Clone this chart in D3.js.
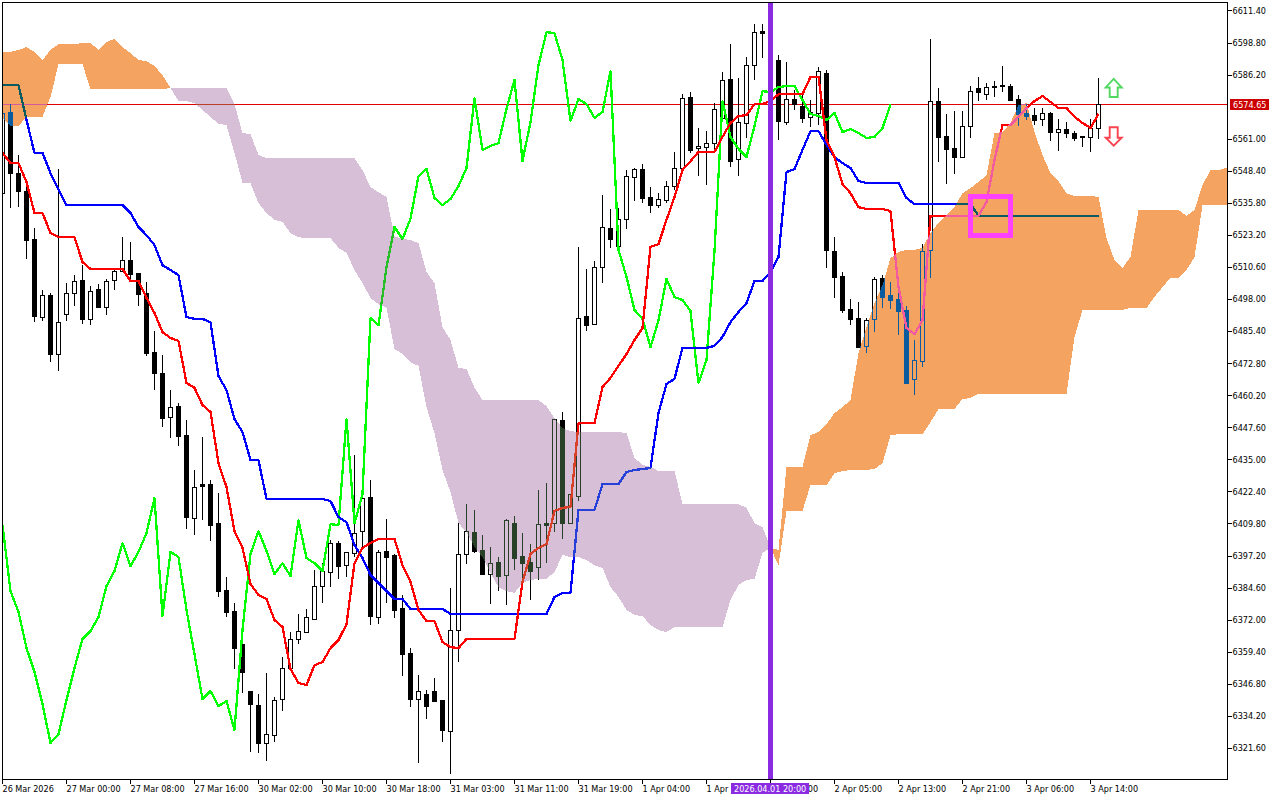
<!DOCTYPE html>
<html><head><meta charset="utf-8">
<script src="https://cdn.jsdelivr.net/npm/d3@7/dist/d3.min.js"></script>
<style>
html,body{margin:0;padding:0;background:#fff;overflow:hidden}
svg{display:block;isolation:isolate}
text{font-family:"DejaVu Sans",sans-serif;font-size:9px;font-stretch:condensed;fill:#000}
.crisp{shape-rendering:crispEdges}
</style></head><body>
<svg id="c" width="1280" height="800"></svg>
<script>
const opens=[6539.8,6571.7,6547.7,6540.6,6521.8,6491.1,6499.7,6476.6,6492.3,6500.5,6505.7,6490.4,6502.1,6495.0,6505.7,6509.2,6513.5,6508.4,6500.5,6477.4,6469.1,6451.8,6456.1,6444.7,6412.2,6425.5,6425.5,6410.1,6383.8,6375.6,6362.6,6344.1,6338.6,6323.7,6326.8,6341.0,6353.2,6364.6,6367.3,6372.4,6385.4,6390.9,6402.3,6393.6,6398.4,6407.0,6420.4,6373.2,6399.2,6397.6,6376.8,6359.0,6341.0,6342.9,6344.1,6340.6,6328.4,6368.1,6398.0,6406.6,6399.6,6390.1,6394.8,6389.7,6410.1,6397.2,6394.8,6392.8,6410.1,6410.1,6450.6,6410.1,6420.7,6491.5,6488.3,6510.8,6526.1,6519.0,6529.7,6546.1,6549.3,6538.3,6535.1,6537.1,6542.6,6549.7,6577.6,6557.6,6557.9,6559.5,6569.4,6584.7,6553.2,6567.4,6590.1,6603.5,6602.7,6592.1,6567.8,6576.8,6574.0,6569.8,6571.3,6587.0,6517.1,6507.2,6494.3,6490.7,6479.7,6490.4,6506.5,6499.7,6498.2,6493.9,6466.8,6473.8,6517.5,6576.0,6562.3,6557.6,6554.0,6566.2,6581.1,6578.7,6581.5,6582.3,6581.9,6576.8,6571.3,6570.5,6569.0,6571.3,6563.8,6565.0,6563.4,6562.3,6561.9,6565.4];
const highs=[6571.3,6574.8,6554.8,6542.6,6526.2,6501.7,6500.5,6549.3,6504.5,6507.6,6511.5,6503.3,6504.1,6506.1,6509.6,6522.5,6520.6,6508.4,6504.9,6485.6,6476.2,6462.4,6457.3,6450.6,6431.0,6443.9,6427.1,6421.9,6388.9,6378.7,6362.6,6344.1,6342.9,6351.2,6341.7,6357.5,6367.3,6374.4,6376.4,6391.7,6394.4,6403.5,6403.1,6398.8,6436.9,6421.9,6427.1,6399.6,6411.7,6398.0,6381.9,6361.0,6350.4,6344.5,6349.3,6340.6,6384.6,6410.1,6417.6,6415.3,6405.5,6400.7,6396.8,6411.7,6413.0,6406.2,6401.9,6423.1,6425.9,6451.0,6453.8,6421.5,6518.7,6510.0,6513.1,6539.1,6533.6,6534.0,6548.9,6549.7,6551.2,6542.2,6539.8,6544.6,6556.0,6578.7,6579.5,6565.4,6564.2,6575.2,6587.4,6598.4,6585.1,6593.3,6606.3,6606.3,6605.1,6594.1,6591.3,6580.3,6579.1,6576.4,6589.4,6588.2,6522.5,6508.8,6498.2,6497.0,6490.7,6506.9,6507.6,6504.9,6500.9,6495.4,6482.1,6519.8,6600.4,6581.1,6570.9,6572.1,6572.1,6581.9,6585.5,6583.1,6583.9,6589.8,6582.7,6578.3,6574.8,6573.3,6573.3,6571.7,6569.0,6567.8,6564.2,6562.3,6569.0,6585.1];
const lows=[6534.3,6534.0,6534.3,6514.0,6489.1,6489.5,6473.4,6469.9,6489.5,6495.4,6488.3,6487.9,6494.7,6491.9,6501.7,6508.8,6505.3,6495.4,6475.8,6462.4,6447.8,6443.6,6440.4,6407.8,6405.5,6411.3,6403.1,6381.1,6373.2,6352.8,6343.3,6320.1,6319.7,6316.6,6324.1,6336.3,6353.2,6362.6,6367.3,6372.0,6378.7,6385.0,6388.2,6388.9,6396.8,6400.7,6370.1,6370.4,6378.7,6372.8,6350.0,6337.9,6315.8,6333.1,6339.8,6324.1,6311.5,6355.5,6394.0,6398.4,6389.7,6378.3,6383.4,6377.9,6391.7,6386.2,6379.9,6387.8,6394.4,6406.6,6403.9,6410.1,6418.8,6485.6,6487.9,6504.5,6518.3,6519.0,6525.7,6536.7,6535.9,6532.0,6534.0,6535.9,6541.0,6548.9,6555.6,6546.5,6543.0,6556.0,6567.8,6550.1,6546.5,6561.5,6584.3,6592.9,6588.2,6560.7,6566.6,6572.5,6567.4,6565.8,6566.6,6510.4,6498.6,6492.7,6487.9,6479.3,6477.0,6485.2,6494.7,6494.3,6484.0,6465.2,6460.5,6471.5,6506.5,6552.0,6543.4,6547.3,6554.0,6561.5,6576.0,6576.4,6577.6,6579.5,6576.0,6566.2,6568.6,6566.6,6566.2,6560.3,6556.4,6561.5,6560.3,6558.0,6556.0,6561.1];
const closes=[6571.3,6547.7,6540.6,6521.4,6491.5,6499.7,6476.6,6489.1,6500.5,6505.3,6490.4,6501.3,6495.0,6505.3,6509.2,6513.5,6508.0,6500.1,6477.0,6469.1,6451.5,6455.7,6444.3,6412.5,6424.3,6424.7,6409.4,6383.4,6375.2,6361.0,6351.6,6339.0,6323.7,6327.2,6340.6,6353.2,6364.6,6367.7,6373.2,6385.4,6391.3,6402.3,6393.2,6398.8,6406.2,6420.0,6373.6,6398.8,6396.8,6376.0,6358.6,6341.0,6344.1,6338.2,6340.2,6328.8,6368.1,6398.0,6407.0,6399.2,6390.1,6394.4,6389.3,6411.3,6396.4,6394.4,6391.3,6409.7,6409.4,6451.0,6410.1,6421.5,6490.7,6487.9,6510.8,6526.5,6521.8,6529.7,6546.5,6549.3,6537.9,6535.1,6537.5,6542.6,6549.7,6577.2,6556.8,6558.4,6559.5,6572.9,6584.3,6552.4,6567.8,6590.1,6603.1,6602.7,6592.1,6568.2,6576.8,6574.8,6569.4,6571.7,6587.8,6517.5,6506.9,6493.9,6490.4,6479.3,6489.9,6506.1,6499.0,6497.8,6493.5,6465.2,6474.2,6517.1,6576.0,6561.9,6557.2,6554.0,6566.2,6579.9,6579.5,6581.5,6581.9,6581.9,6576.4,6570.9,6570.1,6568.6,6571.3,6563.8,6565.0,6563.4,6561.5,6561.9,6565.4,6574.65];
const tenkan=[6555.6,6551.6,6551.6,6544.2,6532.0,6532.0,6524.1,6522.5,6522.5,6522.5,6512.7,6510.0,6510.0,6510.0,6510.0,6510.0,6505.3,6505.3,6498.6,6492.7,6485.2,6482.9,6481.7,6465.2,6463.3,6456.5,6453.8,6433.7,6424.3,6407.0,6400.4,6386.2,6381.9,6380.3,6372.0,6369.3,6352.8,6347.3,6346.5,6354.3,6355.5,6361.0,6364.2,6370.4,6394.4,6400.4,6402.3,6403.9,6403.9,6403.9,6393.6,6387.0,6376.0,6371.6,6371.6,6363.4,6361.4,6361.0,6364.6,6364.6,6364.6,6364.6,6364.6,6364.6,6364.6,6387.0,6398.0,6400.4,6401.9,6414.9,6416.1,6416.5,6449.4,6449.4,6449.4,6463.6,6467.2,6471.9,6476.6,6482.1,6486.8,6518.7,6519.8,6529.3,6538.3,6548.9,6552.4,6556.0,6556.0,6556.0,6561.9,6567.4,6570.1,6570.5,6574.8,6574.8,6576.0,6578.7,6578.7,6578.7,6578.7,6585.5,6585.5,6560.7,6554.0,6543.4,6539.8,6534.3,6533.6,6533.6,6533.6,6532.8,6502.9,6486.8,6484.4,6489.9,6530.9,6530.9,6530.9,6530.9,6530.9,6530.9,6530.9,6536.3,6552.8,6566.6,6566.6,6569.8,6573.3,6576.0,6578.0,6575.6,6573.3,6573.3,6569.8,6567.4,6565.4,6570.9];
const kijun=[6582.3,6582.3,6582.3,6568.6,6555.6,6555.6,6547.7,6541.4,6535.1,6535.1,6535.1,6535.1,6535.1,6535.1,6535.1,6535.1,6532.0,6526.5,6523.3,6519.4,6511.5,6509.6,6507.6,6491.1,6490.4,6490.4,6489.1,6467.9,6462.4,6451.0,6445.9,6434.9,6434.9,6419.6,6419.6,6419.6,6419.6,6419.6,6419.6,6419.6,6419.6,6418.8,6412.5,6410.5,6401.5,6396.4,6389.7,6386.6,6383.4,6380.3,6380.3,6376.4,6376.4,6376.4,6376.4,6376.4,6374.4,6374.4,6374.4,6374.4,6374.4,6374.4,6374.4,6374.4,6374.4,6374.4,6374.4,6374.4,6374.4,6381.1,6382.7,6382.7,6415.3,6415.3,6415.3,6425.5,6425.5,6425.5,6430.2,6431.0,6431.4,6431.8,6453.4,6464.8,6466.8,6479.0,6479.0,6479.0,6479.0,6479.8,6483.3,6489.1,6493.1,6496.6,6505.3,6505.3,6508.8,6514.7,6548.1,6549.3,6556.8,6564.2,6564.2,6558.8,6554.0,6551.6,6549.7,6544.6,6543.8,6543.8,6543.8,6543.8,6543.8,6537.9,6535.5,6535.5,6535.5,6535.5,6535.5,6535.5,6535.5,6535.5,6530.9,6530.9,6530.9,6530.9,6530.9,6530.9,6530.9,6530.9,6530.9,6530.9,6530.9,6530.9,6530.9,6530.9,6530.9,6530.9];
const chikou=[6409.4,6383.4,6375.2,6361.0,6351.6,6339.0,6323.7,6327.2,6340.6,6353.2,6364.6,6367.7,6373.2,6385.4,6391.3,6402.3,6393.2,6398.8,6406.2,6420.0,6373.6,6398.8,6396.8,6376.0,6358.6,6341.0,6344.1,6338.2,6340.2,6328.8,6368.1,6398.0,6407.0,6399.2,6390.1,6394.4,6389.3,6411.3,6396.4,6394.4,6391.3,6409.7,6409.4,6451.0,6410.1,6421.5,6490.7,6487.9,6510.8,6526.5,6521.8,6529.7,6546.5,6549.3,6537.9,6535.1,6537.5,6542.6,6549.7,6577.2,6556.8,6558.4,6559.5,6572.9,6584.3,6552.4,6567.8,6590.1,6603.1,6602.7,6592.1,6568.2,6576.8,6574.8,6569.4,6571.7,6587.8,6517.5,6506.9,6493.9,6490.4,6479.3,6489.9,6506.1,6499.0,6497.8,6493.5,6465.2,6474.2,6517.1,6576.0,6561.9,6557.2,6554.0,6566.2,6579.9,6579.5,6581.5,6581.9,6581.9,6576.4,6570.9,6570.1,6568.6,6571.3,6563.8,6565.0,6563.4,6561.5,6561.9,6565.4,6574.65];
const spanA=[6595.3,6595.3,6596.1,6597.2,6595.3,6592.1,6596.1,6598.4,6598.4,6598.4,6598.8,6598.8,6596.1,6599.2,6600.4,6597.2,6594.9,6592.1,6591.7,6589.8,6586.2,6581.1,
6576.0,6576.0,6575.2,6572.5,6569.8,6567.0,6566.6,6555.6,6543.8,6543.8,6535.9,6532.0,6529.3,6528.5,6524.1,6522.5,6522.1,6522.1,6522.1,6522.1,6518.3,6516.3,6509.6,6504.5,6498.6,6496.2,6494.7,6478.6,6476.6,6473.4,6471.9,6455.7,6445.5,6431.0,6422.3,6410.1,6406.6,6400.7,6396.8,6390.5,6385.0,6383.4,6382.7,6386.6,6387.8,6388.2,6388.2,6390.9,6397.6,6396.8,6396.8,6395.6,6393.6,6392.5,6385.0,6381.1,6376.0,6374.0,6373.6,6370.1,6368.1,6367.3,6369.3,6369.3,6369.3,6369.3,6369.3,6369.3,6369.3,6379.9,6385.8,6387.8,6388.2,6398.4,
6400.4,6399.6,6432.2,6432.2,6432.2,6444.7,6445.9,6449.0,6453.4,6455.7,6458.5,6477.0,6487.2,6496.6,6503.7,6514.3,6516.7,6517.5,6517.5,6518.3,6524.1,6528.1,6531.2,6534.3,6539.8,6541.8,6544.2,6546.9,6563.4,6563.8,6567.4,6574.4,6575.2,6563.8,6554.8,6547.7,6544.6,6539.8,6538.7,6538.7,6538.7,6538.3,6522.1,6513.5,6510.4,6514.7,6533.2,6533.2,6533.2,6533.2,6533.2,6533.2,6530.9,6533.2,6543.0,6548.9,6548.9,6549.7];
const spanB=[6569.4,6566.2,6566.2,6569.8,6569.8,6569.8,6577.6,6590.5,6590.5,6590.5,6590.5,6580.7,6580.7,6580.7,6580.7,6580.7,6580.7,6580.7,6580.7,6580.7,6580.7,6581.1,
6581.1,6581.1,6581.1,6581.1,6581.1,6581.1,6581.1,6574.8,6563.4,6563.0,6554.8,6553.6,6553.6,6553.6,6553.6,6553.6,6553.6,6553.6,6553.6,6553.6,6553.6,6553.6,6553.6,6548.9,6542.2,6540.2,6538.3,6522.9,6521.8,6521.4,6520.2,6508.8,6504.5,6487.2,6482.1,6471.1,6470.7,6463.3,6458.5,6458.5,6458.5,6458.5,6458.5,6458.5,6458.5,6458.5,6456.1,6451.4,6447.5,6446.3,6445.9,6445.9,6445.9,6445.9,6445.9,6445.9,6445.5,6435.7,6433.0,6432.2,6430.6,6430.6,6430.6,6417.6,6417.6,6417.6,6417.6,6417.6,6417.6,6417.6,6417.6,6416.1,6410.1,6408.6,
6400.4,6393.6,6414.9,6414.9,6414.9,6425.1,6425.1,6425.1,6429.8,6430.6,6431.0,6431.0,6431.0,6431.4,6433.7,6444.7,6445.1,6445.1,6445.1,6445.1,6449.8,6455.0,6455.0,6455.0,6458.9,6459.3,6460.9,6460.9,6460.9,6460.9,6460.9,6460.9,6460.9,6460.9,6460.9,6460.9,6460.9,6460.9,6483.3,6493.9,6493.9,6493.9,6493.9,6493.9,6493.9,6494.7,6494.7,6494.7,6499.0,6502.9,6506.5,6506.5,6509.6,6514.7,6535.1,6535.1,6535.1,6535.1];
const priceTicks=[6611.4,6598.8,6586.2,6561.0,6548.4,6535.8,6523.2,6510.6,6498.0,6485.4,6472.8,6460.2,6447.6,6435.0,6422.4,6409.8,6397.2,6384.6,6372.0,6359.4,6346.8,6334.2,6321.6];
const timeTickBars=[0,8,16,24,32,40,48,56,64,72,80,88,96,104,112,120,128,136];
const timeTickLabels=["26 Mar 2026","27 Mar 00:00","27 Mar 08:00","27 Mar 16:00","30 Mar 02:00","30 Mar 10:00","30 Mar 18:00","31 Mar 03:00","31 Mar 11:00","31 Mar 19:00","1 Apr 04:00","1 Apr 12:00","1 Apr 20:00","2 Apr 05:00","2 Apr 13:00","2 Apr 21:00","3 Apr 06:00","3 Apr 14:00"];
const bidPrice=6574.65, bidLabel="6574.65";
const markerBar=96, markerLabel="2026.04.01 20:00";
const boxBars=[121,126], boxPrices=[6538.3,6523.3];
const arrowBar=138.9, upArrowPrice=6584.7, downArrowPrice=6565.7;

const W=1280,H=800,L=2.5,R=1227.5,T=2.5,B=779.5;
const svg=d3.select("#c");
const x=d3.scaleLinear().domain([0,1]).range([2.5,10.5]);
const y=d3.scaleLinear().domain([6309.56,6615.72]).range([779,0]);

svg.append("rect").attr("width",W).attr("height",H).attr("fill","#fff");
svg.append("defs").append("clipPath").attr("id","plot").append("rect")
  .attr("x",3).attr("y",3).attr("width",1224).attr("height",776);
const plot=svg.append("g").attr("clip-path","url(#plot)").style("isolation","isolate");
plot.append("rect").attr("x",0).attr("y",0).attr("width",W).attr("height",H).attr("fill","#fff");

// bid line
plot.append("line").attr("class","crisp").attr("x1",0).attr("x2",R)
  .attr("y1",Math.floor(y(bidPrice))+.5).attr("y2",Math.floor(y(bidPrice))+.5)
  .attr("stroke","#e00000").attr("stroke-width",1);

// candles
const idx=d3.range(opens.length);
const cg=plot.append("g").attr("class","crisp");
cg.selectAll("rect.wick").data(idx).join("rect").attr("class","wick")
  .attr("x",i=>x(i)-.5).attr("width",1)
  .attr("y",i=>Math.round(y(highs[i])))
  .attr("height",i=>Math.max(1,Math.round(y(lows[i]))-Math.round(y(highs[i]))))
  .attr("fill","#000");
cg.selectAll("rect.body").data(idx).join("rect").attr("class","body")
  .each(function(i){
    const up=closes[i]>=opens[i];
    const t=Math.round(y(Math.max(opens[i],closes[i])));
    const b=Math.round(y(Math.min(opens[i],closes[i])));
    const s=d3.select(this);
    if(up){
      s.attr("x",x(i)-2).attr("width",4).attr("y",t+.5).attr("height",Math.max(1,b-t))
       .attr("fill","#fff").attr("stroke","#000").attr("stroke-width",1);
    }else{
      s.attr("x",x(i)-2.5).attr("width",5).attr("y",t).attr("height",Math.max(2,b-t+1)).attr("fill","#000");
    }
  });

// ichimoku lines
const ln=d3.line().x((d,i)=>x(i)).y(d=>y(d));
[[chikou,"#00ff00"],[kijun,"#0000ff"],[tenkan,"#ff0000"]].forEach(([s,c])=>{
  plot.append("path").attr("class","crisp").attr("d",ln(s)).attr("fill","none")
    .attr("stroke",c).attr("stroke-width",2.3).attr("stroke-linejoin","round");
});

// cloud: inverse colours with difference blending reproduce the terminal's XOR fill
const area=d3.area().x(i=>x(i)).y0(i=>y(spanA[i])).y1(i=>y(spanB[i]));
const cloudIdx=d3.range(spanA.length);
plot.append("path").attr("class","crisp").style("mix-blend-mode","difference")
  .attr("d",area.defined(i=>spanA[i]>=spanB[i])(cloudIdx)).attr("fill","#0b5b9f");
plot.append("path").attr("class","crisp").style("mix-blend-mode","difference")
  .attr("d",area.defined(i=>spanA[i]<=spanB[i])(cloudIdx)).attr("fill","#274027");

// highlight box
plot.append("rect").attr("class","crisp")
  .attr("x",x(boxBars[0])).attr("width",x(boxBars[1])-x(boxBars[0]))
  .attr("y",y(boxPrices[0])).attr("height",y(boxPrices[1])-y(boxPrices[0]))
  .attr("fill","none").attr("stroke","#ff40ff").attr("stroke-width",5);

// vertical marker
plot.append("rect").attr("class","crisp").attr("x",x(markerBar)-2.5).attr("width",5)
  .attr("y",0).attr("height",H).attr("fill","#8a2be2");

// arrows
const ax=x(arrowBar), uy=y(upArrowPrice), dy=y(downArrowPrice);
const up=[[ax,uy],[ax+8,uy+8.5],[ax+4,uy+8.5],[ax+4,uy+18],[ax-4,uy+18],[ax-4,uy+8.5],[ax-8,uy+8.5]];
const down=[[ax-4,dy],[ax+4,dy],[ax+4,dy+10.5],[ax+8,dy+10.5],[ax,dy+18.5],[ax-8,dy+10.5],[ax-4,dy+10.5]];
svg.append("polygon").attr("points",up.join(" ")).attr("fill","#fff").attr("stroke","#50d860").attr("stroke-width",1.9);
svg.append("polygon").attr("points",down.join(" ")).attr("fill","#fff").attr("stroke","#f84450").attr("stroke-width",1.9);

// frame and axes
svg.append("rect").attr("class","crisp").attr("x",L).attr("y",T).attr("width",R-L).attr("height",B-T)
  .attr("fill","none").attr("stroke","#000").attr("stroke-width",1);
const yAxis=d3.axisRight(y).tickValues(priceTicks).tickSize(4).tickPadding(1).tickFormat(d3.format(".2f")).offset(0);
const ga=svg.append("g").attr("transform",`translate(${R},0)`).call(yAxis);
ga.select(".domain").remove();
ga.selectAll("line").attr("class","crisp").attr("stroke","#000");
ga.selectAll("text").attr("fill","#000");
ga.attr("font-family",null).attr("font-size",null);
const xAxis=d3.axisBottom(x).tickValues(timeTickBars).tickSize(4).tickPadding(2).offset(0)
  .tickFormat(i=>timeTickLabels[timeTickBars.indexOf(i)]);
const gb=svg.append("g").attr("transform",`translate(0,${B})`).call(xAxis);
gb.select(".domain").remove();
gb.selectAll("line").attr("class","crisp").attr("stroke","#000");
gb.selectAll("text").attr("text-anchor","start").attr("fill","#000");
gb.attr("font-family",null).attr("font-size",null).attr("text-anchor",null);

// bid price tag
const by=y(bidPrice);
svg.append("rect").attr("class","crisp").attr("x",1230).attr("y",Math.round(by)-5).attr("width",39).attr("height",11).attr("fill","#cc0000");
svg.append("text").attr("x",1233).attr("y",by+3.5).style("fill","#fff").text(bidLabel);

// marker date tag
svg.append("rect").attr("class","crisp").attr("x",731).attr("y",783).attr("width",78).attr("height",11).attr("fill","#8a2be2");
svg.append("text").attr("x",734).attr("y",792).style("fill","#fff").text(markerLabel);
</script>
</body></html>
